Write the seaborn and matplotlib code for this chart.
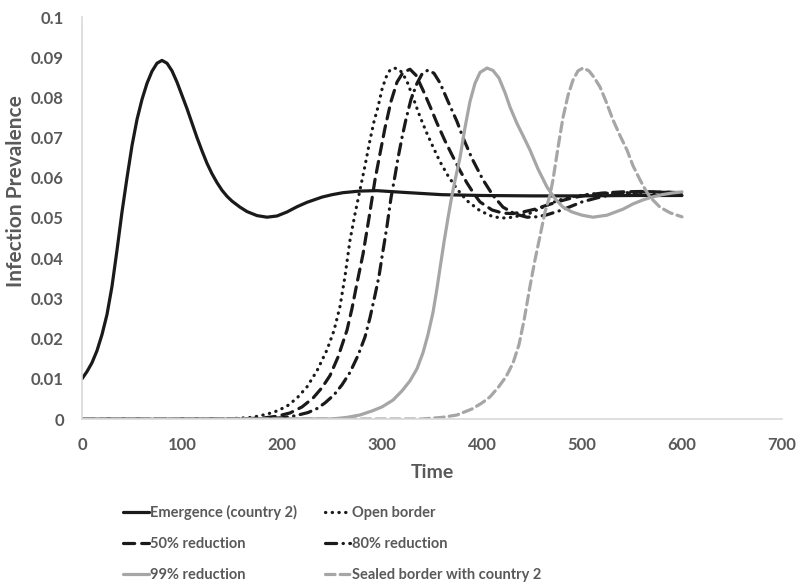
import numpy as np
import matplotlib
matplotlib.use("Agg")
import matplotlib.pyplot as plt
import seaborn as sns
import pandas as pd

sns.set_theme(style="white")
plt.rcParams['font.family'] = ['Lato', 'DejaVu Sans']

TEXT_GREY = "#595959"
AXIS_GREY = "#D9D9D9"
BLACK = "#1a1a1a"
GREY = "#A6A6A6"

# Emergence (country 2)
t_emerg = [0, 5, 10, 15, 20, 25, 30, 35, 40, 45, 50, 55, 60, 65, 70, 75, 80, 85, 90,
           95, 100, 105, 110, 115, 120, 125, 130, 135, 140, 145, 150, 158, 165, 175,
           185, 195, 205, 215, 225, 240, 250, 261, 278, 295, 320, 340, 360, 380, 400,
           450, 500, 550, 600]
v_emerg = [0.0100, 0.0118, 0.0140, 0.0170, 0.0210, 0.0260, 0.0330, 0.0420, 0.0515,
           0.0600, 0.0680, 0.0745, 0.0795, 0.0835, 0.0865, 0.0885, 0.0892, 0.0885,
           0.0866, 0.0838, 0.0805, 0.0772, 0.0736, 0.0700, 0.0667, 0.0636, 0.0610,
           0.0588, 0.0569, 0.0554, 0.0542, 0.0527, 0.0516, 0.0506, 0.0502, 0.0505,
           0.0515, 0.0528, 0.0539, 0.0552, 0.0558, 0.0563, 0.0567, 0.0568, 0.0564,
           0.0561, 0.0558, 0.0557, 0.0556, 0.0555, 0.0555, 0.0556, 0.0556]

# Open border
t_open = [0, 100, 150, 170, 185, 195, 205, 215, 225, 235, 245, 252, 258, 263, 268, 273,
          278, 283, 288, 292, 296, 300, 304, 308, 312, 316, 320, 325, 331, 338, 345,
          351, 358, 366, 375, 385, 398, 411, 421, 431, 448, 461, 475, 490, 510, 540,
          570, 600]
v_open = [0, 0, 0.0001, 0.0004, 0.0012, 0.0020, 0.0032, 0.0052, 0.0080, 0.0120, 0.0172,
          0.0220, 0.0280, 0.0355, 0.0445, 0.0510, 0.0570, 0.0630, 0.0694, 0.0740,
          0.0776, 0.0820, 0.0850, 0.0868, 0.0873, 0.0871, 0.0862, 0.0840, 0.0800,
          0.0752, 0.0710, 0.0677, 0.0640, 0.0605, 0.0572, 0.0543, 0.0518, 0.0503,
          0.0500, 0.0502, 0.0512, 0.0527, 0.0543, 0.0553, 0.0560, 0.0563, 0.0563,
          0.0562]

# 50% reduction
t_50 = [0, 150, 180, 195, 208, 220, 231, 240, 248, 256, 265, 270, 275, 281, 287, 293,
        298, 303, 309, 315, 321, 328, 334, 341, 348, 355, 363, 371, 378, 385, 392, 398,
        410, 421, 431, 441, 453, 465, 478, 490, 505, 520, 540, 560, 600]
v_50 = [0, 0, 0.0002, 0.0007, 0.0015, 0.0030, 0.0052, 0.0078, 0.0108, 0.0154, 0.0221,
        0.0275, 0.0338, 0.0410, 0.0500, 0.0595, 0.0660, 0.0724, 0.0790, 0.0838,
        0.0862, 0.0870, 0.0855, 0.0818, 0.0778, 0.0736, 0.0692, 0.0652, 0.0618,
        0.0587, 0.0560, 0.0540, 0.0520, 0.0512, 0.0511, 0.0515, 0.0522, 0.0532,
        0.0542, 0.0550, 0.0557, 0.0562, 0.0565, 0.0566, 0.0563]

# 80% reduction
t_80 = [0, 180, 200, 213, 226, 235, 243, 252, 260, 268, 276, 283, 288, 293, 297, 300,
        305, 309, 313, 316, 320, 324, 329, 335, 340, 346, 352, 358, 366, 375, 381, 390,
        401, 411, 421, 433, 445, 455, 465, 480, 500, 515, 530, 560, 600]
v_80 = [0, 0, 0.0003, 0.0008, 0.0016, 0.0026, 0.0040, 0.0060, 0.0085, 0.0116, 0.0158,
        0.0204, 0.0252, 0.0308, 0.0355, 0.0403, 0.0480, 0.0550, 0.0605, 0.0649,
        0.0700, 0.0746, 0.0795, 0.0835, 0.0858, 0.0868, 0.0860, 0.0836, 0.0790,
        0.0740, 0.0700, 0.0648, 0.0595, 0.0556, 0.0527, 0.0510, 0.0502, 0.0503,
        0.0508, 0.0520, 0.0540, 0.0550, 0.0558, 0.0565, 0.0563]

# 99% reduction
t_99 = [0, 250, 265, 278, 290, 300, 311, 320, 328, 335, 341, 346, 351, 355, 358, 362,
        366, 370, 374, 378, 383, 388, 393, 398, 405, 411, 417, 423, 428, 435, 441, 448,
        456, 465, 473, 481, 490, 500, 511, 525, 541, 551, 561, 570, 580, 590, 600]
v_99 = [0, 0, 0.0004, 0.0010, 0.0020, 0.0030, 0.0047, 0.0070, 0.0095, 0.0125, 0.0165,
        0.0210, 0.0265, 0.0325, 0.0375, 0.0440, 0.0500, 0.0557, 0.0605, 0.0650,
        0.0725, 0.0790, 0.0835, 0.0862, 0.0873, 0.0867, 0.0848, 0.0812, 0.0776,
        0.0735, 0.0705, 0.0669, 0.0622, 0.0577, 0.0548, 0.0527, 0.0515, 0.0507,
        0.0502, 0.0507, 0.0522, 0.0535, 0.0545, 0.0552, 0.0558, 0.0562, 0.0565]

# Sealed border with country 2
t_sealed = [0, 340, 360, 375, 390, 400, 408, 416, 424, 431, 437, 442, 448, 453, 458,
            463, 468, 471, 476, 481, 486, 491, 496, 501, 507, 512, 518, 524, 531, 538,
            545, 551, 558, 563, 568, 578, 588, 595, 600]
v_sealed = [0, 0, 0.0004, 0.0010, 0.0025, 0.0040, 0.0055, 0.0078, 0.0105, 0.0139,
            0.0185, 0.0245, 0.0330, 0.0396, 0.0455, 0.0515, 0.0557, 0.0595, 0.0675,
            0.0750, 0.0805, 0.0843, 0.0866, 0.0873, 0.0866, 0.0850, 0.0826, 0.0790,
            0.0744, 0.0705, 0.0669, 0.0630, 0.0595, 0.0572, 0.0552, 0.0527, 0.0513,
            0.0507, 0.0503]

series = [
    ("Emergence (country 2)", t_emerg, v_emerg, BLACK, "-", 2.3),
    ("Open border", t_open, v_open, BLACK, (0, (0.1, 2.0)), 2.3),
    ("50% reduction", t_50, v_50, BLACK, (0, (3.5, 2.2)), 2.3),
    ("80% reduction", t_80, v_80, BLACK, (0, (3.5, 2.0, 0.1, 2.0)), 2.3),
    ("99% reduction", t_99, v_99, GREY, "-", 2.3),
    ("Sealed border with country 2", t_sealed, v_sealed, GREY, (0, (3.0, 1.6)), 2.3),
]

fig = plt.figure(figsize=(7.98, 5.85), dpi=100)
ax = fig.add_axes([82 / 798, 1 - 419 / 585, 700 / 798, 402 / 585])

for name, t, v, c, ls, lw in series:
    df = pd.DataFrame({"Time": t, "Infection Prevalence": v})
    sns.lineplot(data=df, x="Time", y="Infection Prevalence", ax=ax,
                 color=c, linewidth=lw, label=name, estimator=None, sort=False)
    ln = ax.get_lines()[-1]
    ln.set_linestyle(ls)
    ln.set_dash_capstyle("round")
    ln.set_solid_capstyle("round")

ax.set_xlim(0, 700)
ax.set_ylim(0, 0.1)
ax.set_xticks(np.arange(0, 701, 100))
yt = np.round(np.arange(0, 0.1001, 0.01), 2)
ax.set_yticks(yt)
ax.set_yticklabels([f"{y:g}" for y in yt])
ax.tick_params(axis="both", length=0, labelsize=12, labelcolor=TEXT_GREY, pad=13)
for lab in ax.get_xticklabels() + ax.get_yticklabels():
    lab.set_fontweight("bold")

for s in ["top", "right"]:
    ax.spines[s].set_visible(False)
for s in ["left", "bottom"]:
    ax.spines[s].set_color(AXIS_GREY)
    ax.spines[s].set_linewidth(1.2)
ax.grid(False)

ax.set_xlabel("Time", fontsize=14, fontweight="bold", color=TEXT_GREY, labelpad=8)
ax.set_ylabel("Infection Prevalence", fontsize=15, fontweight="bold", color=TEXT_GREY)
ax.yaxis.set_label_coords((26 - 82) / 700, (419 - 191) / 402)

# legend is filled row by row in the reference
handles, labels = ax.get_legend_handles_labels()
ax.legend_.remove()
order = [0, 2, 4, 1, 3, 5]
leg = fig.legend([handles[i] for i in order], [labels[i] for i in order], ncol=2,
                 loc="upper left", bbox_to_anchor=(123 / 798, 1 - 505 / 585),
                 frameon=False, fontsize=10.5, handlelength=1.75,
                 handletextpad=0.1, columnspacing=1.9, labelspacing=1.15,
                 borderpad=0, borderaxespad=0)
for txt in leg.get_texts():
    txt.set_color(TEXT_GREY)
    txt.set_fontweight("bold")

fig.savefig("out.png", dpi=100)
